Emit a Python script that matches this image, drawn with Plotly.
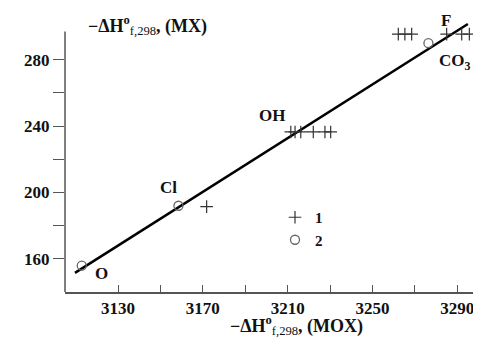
import plotly.graph_objects as go

# Series 1 (+) : -dH(MOX) vs -dH(MX)
s1_x = [3171.8, 3211.5, 3213.5, 3216.2, 3222.1, 3227.6, 3230.3,
        3262.2, 3265.3, 3268.5, 3285.0, 3292.1, 3295.7]
s1_y = [191.5, 236.5, 236.5, 236.5, 236.5, 236.5, 236.5,
        295.5, 295.5, 295.5, 295.5, 295.5, 295.5]
# Series 2 (o)
s2_x = [3112.9, 3158.5, 3276.4]
s2_y = [155.9, 192.0, 290.0]
# Fitted line (end points)
fit_x = [3109.7, 3295.0]
fit_y = [151.5, 301.6]

x_ticks = [3130, 3150, 3170, 3190, 3210, 3230, 3250, 3270, 3290]
x_ticktext = ["3130", "", "3170", "", "3210", "", "3250", "", "3290"]
y_ticks = [160, 180, 200, 220, 240, 260, 280]
y_ticktext = ["160", "", "200", "", "240", "", "280"]

labels = ["F", "CO<sub>3</sub>", "OH", "Cl", "O"]
label_x = [3284.7, 3289.0, 3202.6, 3153.6, 3122.0]
label_y = [304.0, 278.7, 246.2, 203.3, 150.9]

FONT = "Liberation Serif"
INK = "#111"

fig = go.Figure()
fig.add_trace(go.Scatter(x=fit_x, y=fit_y, mode="lines",
                         line=dict(color="black", width=2.5), showlegend=False,
                         cliponaxis=False))
fig.add_trace(go.Scatter(x=s1_x, y=s1_y, mode="markers", name="<b>1</b>",
                         marker=dict(symbol="cross-thin-open", size=9, color="#333",
                                     line=dict(color="#333", width=1.2))))
fig.add_trace(go.Scatter(x=s2_x, y=s2_y, mode="markers", name="<b>2</b>",
                         marker=dict(symbol="circle-open", size=9, color="#666",
                                     line=dict(color="#666", width=1.3))))

for t, x, y in zip(labels, label_x, label_y):
    fig.add_annotation(x=x, y=y, xref="x", yref="y", text="<b>" + t + "</b>",
                       showarrow=False, font=dict(family=FONT, size=17, color=INK))

# plot area: 416 x 272 px, left edge at page x=65, bottom at page y=292
fig.add_annotation(xref="paper", yref="paper", x=(86 - 65) / 416, y=(292 - 25) / 272,
                   xanchor="left", yanchor="middle", showarrow=False,
                   text="<b>−ΔH<sup>o</sup></b><sub>f,298</sub><b>, (MX)</b>",
                   font=dict(family=FONT, size=18, color=INK))
fig.add_annotation(xref="paper", yref="paper", x=(228 - 65) / 416, y=-(325 - 292) / 272,
                   xanchor="left", yanchor="middle", showarrow=False,
                   text="<b>−ΔH<sup>o</sup></b><sub>f,298</sub><b>, (MOX)</b>",
                   font=dict(family=FONT, size=18, color=INK))

fig.add_shape(type="line", xref="paper", yref="y", x0=0, x1=0, y0=140, y1=297,
              line=dict(color="#555", width=1.5))

fig.update_layout(
    width=473, height=334,
    margin=dict(l=57, r=0, t=12, b=50),
    plot_bgcolor="white", paper_bgcolor="white",
    font=dict(family=FONT, size=17, color=INK),
    legend=dict(x=(275 - 65) / 416, y=(292 - 201) / 272, xanchor="left", yanchor="top",
                bgcolor="rgba(0,0,0,0)", font=dict(family=FONT, size=15, color=INK),
                tracegroupgap=0),
    xaxis=dict(range=[3105, 3301.2], tickvals=x_ticks,
               ticktext=["<b>" + t + "</b>" if t else "" for t in x_ticktext],
               ticks="inside", ticklen=7, tickcolor="#555", tickwidth=1.3,
               showline=True, linecolor="#555", linewidth=1.5,
               showgrid=False, zeroline=False,
               tickfont=dict(family=FONT, size=17, color=INK)),
    yaxis=dict(range=[140, 304], tickvals=y_ticks,
               ticktext=["<b>" + t + "</b>" if t else "" for t in y_ticktext],
               ticks="outside", ticklen=11, tickcolor="#555", tickwidth=1.3,
               showline=False, showgrid=False, zeroline=False,
               tickfont=dict(family=FONT, size=17, color=INK)),
)

fig.write_html("out.html")
